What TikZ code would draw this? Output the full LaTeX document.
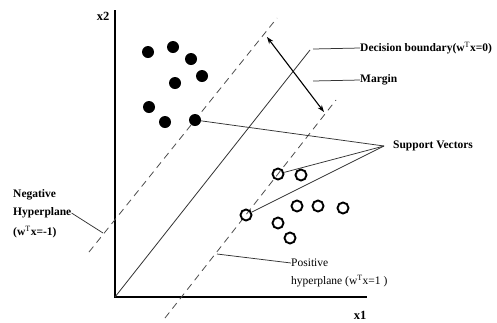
\documentclass[tikz,border=0pt]{standalone}
\usepackage{fontspec}
\setmainfont{Liberation Serif}
\usetikzlibrary{arrows.meta}

\begin{document}
\begin{tikzpicture}[x=1pt,y=-1pt,
  fdot/.style={circle,fill=black,minimum size=12pt,inner sep=0pt},
  hdot/.style={circle,draw=black,line width=1.9pt,minimum size=11pt,inner sep=0pt},
  plane/.style={draw=black!70,line width=0.8pt,dash pattern=on 7pt off 5pt},
  leader/.style={draw=black!80,line width=0.75pt},
  lbl/.style={font=\fontsize{11.5}{12}\selectfont\bfseries,inner sep=0pt},
  lblr/.style={font=\fontsize{11.5}{12}\selectfont,inner sep=0pt}]
  \useasboundingbox (0,0) rectangle (497,322);
  % --- axes: corner at (115,297) ---
  \draw[line width=2pt] (115,10) -- (115,297) -- (367,297);
  \node[lbl,font=\fontsize{12.5}{13}\selectfont\bfseries] (xtwo) at (103,16) {x2};
  \node[lbl,font=\fontsize{12.5}{13}\selectfont\bfseries] (xone) at (360,315) {x1};
  % --- decision boundary and the two hyperplanes (parallel, slope about -1.27) ---
  \draw[black!80,line width=0.8pt] (115,297) -- (310,50);
  \draw[plane] (89,252) -- (277,18);
  \draw[plane] (165,318) -- (336,100);
  % margin arrow between the dashed planes
  \draw[{Stealth[length=7pt,width=5pt]}-{Stealth[length=7pt,width=5pt]},line width=1.1pt] (267,37) -- (324,112);
  % --- class one: filled dots ---
  \node[fdot] (n1) at (148,52) {};
  \node[fdot] (n2) at (173,47) {};
  \node[fdot] (n3) at (191,59) {};
  \node[fdot] (n4) at (202,76) {};
  \node[fdot] (n5) at (175,83) {};
  \node[fdot] (n6) at (149,107) {};
  \node[fdot] (n7) at (165,122) {};
  \node[fdot] (n8) at (195,120) {};
  % --- class two: hollow dots ---
  \node[hdot] (p1) at (278,174) {};
  \node[hdot] (p2) at (301,175) {};
  \node[hdot] (p3) at (246,215) {};
  \node[hdot] (p4) at (297,206) {};
  \node[hdot] (p5) at (318,206) {};
  \node[hdot] (p6) at (343,208) {};
  \node[hdot] (p7) at (278,223) {};
  \node[hdot] (p8) at (290,238) {};
  % --- labels with leader lines ---
  \node[lbl,anchor=west] (dec) at (360,48) {Decision boundary(w$^{\mathrm{T}}$x=0)};
  \coordinate (decend) at (313,49);
  \draw[leader] (decend) -- (dec.west);
  \node[lbl,anchor=west] (mar) at (360,80) {Margin};
  \coordinate (marend) at (313,81);
  \draw[leader] (marend) -- (mar.west);
  \node[lbl,anchor=west] (svt) at (393,146) {Support Vectors};
  \coordinate (sv) at (384,146);
  \draw[leader] (sv) -- (n8);
  \draw[leader] (sv) -- (p1);
  \draw[leader] (sv) -- (p3);
  % negative hyperplane, three lines
  \node[lbl,anchor=west] (neg1) at (13,195) {Negative};
  \node[lbl,anchor=west] (neg2) at (13,213) {Hyperplane};
  \node[lbl,anchor=west] (neg3) at (13,232) {(w$^{\mathrm{T}}$x=-1)};
  \coordinate (negend) at (103,233);
  \draw[leader] (neg2.east) -- (negend);
  % positive hyperplane, two lines
  \node[lblr,anchor=west] (pos1) at (291,263) {Positive};
  \node[lblr,anchor=west] (pos2) at (291,281) {hyperplane (w$^{\mathrm{T}}$x=1 )};
  \coordinate (posend) at (217,254);
  \draw[leader] (posend) -- (pos1.west);
\end{tikzpicture}
\end{document}
